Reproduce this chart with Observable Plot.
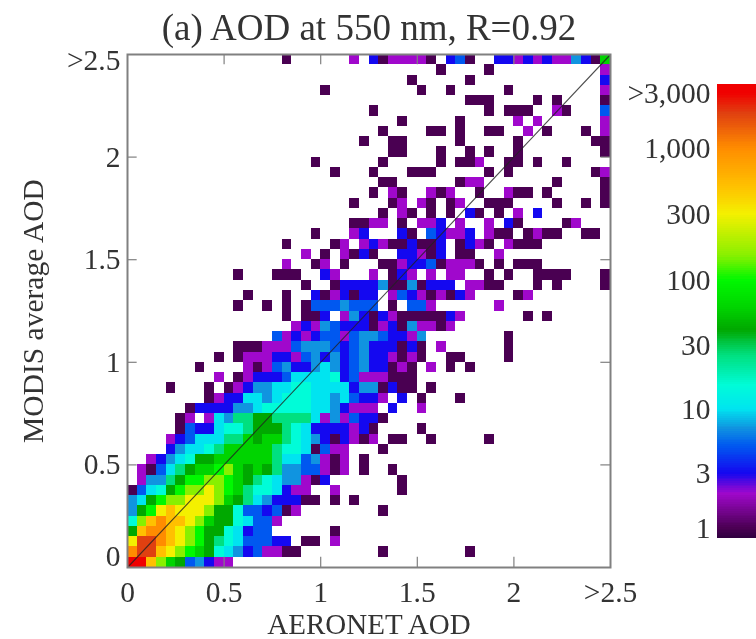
<!DOCTYPE html>
<html>
<head>
<meta charset="utf-8">
<script src="https://cdn.jsdelivr.net/npm/d3@7"></script>
<script src="https://cdn.jsdelivr.net/npm/@observablehq/plot@0.6"></script>
<style>
html,body{margin:0;padding:0;background:#fff;overflow:hidden}
#wrap{position:relative;width:756px;height:639px;filter:blur(0.5px)}
#wrap svg{position:absolute;top:0;background:transparent}
</style>
</head>
<body>
<div id="wrap"></div>
<script>
const titleText = "(a) AOD at 550 nm, R=0.92";
const xLabel = "AERONET AOD";
const yLabel = "MODIS average AOD";
const binSize = 0.05;
const binCount = 50;
const axisTicks = [0.5, 1, 1.5, 2];

// Count read for each level letter
const levelCounts = {a:1,b:2,c:3,d:5,e:7,f:10,g:15,h:25,i:40,j:60,k:100,l:150,m:300,n:500,o:1000,p:2000,q:3000};

// One line per MODIS bin, top row first. Each run: first AERONET bin, then level letters.
const rows = [
"16a 23b 25cabbbba 33cda 38ccbcbcbbecaj",
"32a 37a 49b",
"29a 35a 49c",
"20a 30a 33a 39a 49b",
"35aaa 42a 44a 49a",
"25a 37a 39aaa 44ba 49d",
"28a 34a 40b 42b 49b",
"26a 31aa 34a 37aa 41b 43a 47a 49b",
"24a 27aa 34a 40a 48aa",
"27aa 32a 35a 37a 40a 49a",
"19a 26a 32a 34aab 39aa 42a 45a",
"21a 25a 29aaa 37a 39a 48ab",
"26aa 34abb 44a 49a",
"25a 27ba 31bab 36a 39baa 43a 49a",
"23a 27ab 30ba 33ab 37aaa 44a 47a 49a",
"26a 28ba 31a 33a 35ca 38a 40b 42c",
"23aabb 28a 30bbc 34b 37b 39ca 45ab",
"19a 23bc 28ca 31dcbbc 37baa 41abaa 47aa",
"16a 21ab 24bcbaacaac 34acba 39baaa",
"18b 20a 22baca 28ccbac 34aa 38b",
"16b 19ab 22a 26aabccdabbba 38a 40aaa",
"11a 15aaa 20cb 25b 27acb 31b 33bb 37a 39a 42aaaa 49a",
"18a 21acccceaaeaccc 35bbaa 42a 44a 49a",
"12a 16a 19cabcacc 27bdcbabacb 40ab",
"11a 14a 16a 18adddeddd 27a 29ddb 38b",
"16a 18aac 22becacbaaaaacb 41a 43a",
"17bcbedcccabcaebbab",
"15dbcbcddbdeedccbe 39a",
"11aaabbbdeeedcdecccaca 32b 39a",
"9a 11abbbccbdececdeccbaba 33aa 39a",
"7a 12babdeccefecdeccaba 31b 33a 35a",
"9b 11abcccdffffgcdbbbaaa",
"4a 8a 10abceeffggffffceeacaa 31a",
"8abccffefgggffefdccb 28c 30a 34a",
"6acccceefgggggffecbbb 27c 30b",
"5ab.bfehhiihhhhfbebdcca",
"5adccfgghiiihgfccccbca 30a",
"4bcdfffhhjijjhgfecacbab 27aa 31a 37a",
"4ceffghjjjjjhggfadbb 26a",
"2bcefgiijjjjjjhffdebab 24a",
"1badfhijjkljijiheeddbab 24a 27a",
"1beehikkllkjihgfeebac 28a",
"0adfgikllmlkjhggfcbb 21b 28a",
"0efikllmmmljihfecccaa 21a 23a",
"0eikmnmmmliigddcdab 26a",
"0glnonnmljiigfddb",
"0inoonmlkiigfcdd 21a",
"0mpponmlkihgfdddcc 18aa 21b",
"0oppnmlkjigfecdbbaa 26a 35a",
"0qqnljidecbb"
];

// Colour bar
const colorStops = [0.8,1,2,3,5,7,10,15,25,40,60,100,150,300,500,1000,2000,3000,3700];
const colorValues = ["#300040","#4a0052","#a008cc","#1408f0","#0058f0","#1094e0","#00e4f0","#00fcd8","#00e080","#00a800","#00d400","#00f800","#88f000","#f4f000","#ffc000","#ff8c00","#e04010","#f00000","#f00000"];
const barTicks = [1,3,10,30,100,300,1000,3000];
const barLabels = ["1","3","10","30","100","300","1,000",">3,000"];

const cells = [];
rows.forEach((line, r) => {
  for (const [, start, run] of line.matchAll(/(\d+)([a-z.]+)/g)) {
    [...run].forEach((ch, i) => {
      if (ch === ".") return;
      const col = +start + i, row = binCount - 1 - r;
      cells.push({x1: col * binSize, x2: (col + 1) * binSize, y1: row * binSize, y2: (row + 1) * binSize, count: levelCounts[ch]});
    });
  }
});

const colorScale = {type: "log", domain: colorStops, range: colorValues};
const serif = "'Liberation Serif','Times New Roman',serif";
const ink = "#333";
const edge = "#808080";
const fs = 29.5;
const tickText = d => String(d);

const main = Plot.plot({
  width: 756, height: 639,
  marginLeft: 127, marginRight: 146, marginTop: 54, marginBottom: 72,
  style: {fontFamily: serif, background: "transparent", overflow: "visible"},
  x: {domain: [0, 2.5]},
  y: {domain: [0, 2.5]},
  color: colorScale,
  marks: [
    Plot.rect(cells, {x1: "x1", x2: "x2", y1: "y1", y2: "y2", fill: "count", shapeRendering: "crispEdges"}),
    Plot.line([[0, 0], [2.5, 2.5]], {stroke: "#222", strokeWidth: 1.1, strokeOpacity: 0.8}),
    Plot.ruleX(axisTicks, {y1: 0, y2: binSize, stroke: edge, strokeWidth: 1.2}),
    Plot.ruleX(axisTicks, {y1: 2.5 - binSize, y2: 2.5, stroke: edge, strokeWidth: 1.2}),
    Plot.ruleY(axisTicks, {x1: 0, x2: binSize, stroke: edge, strokeWidth: 1.2}),
    Plot.ruleY(axisTicks, {x1: 2.5 - binSize, x2: 2.5, stroke: edge, strokeWidth: 1.2}),
    Plot.frame({stroke: edge, strokeWidth: 2}),
    Plot.axisX([0, ...axisTicks], {tickSize: 0, tickPadding: 14, fontSize: fs, fill: ink, label: null, tickFormat: tickText}),
    Plot.axisX([2.5], {tickSize: 0, tickPadding: 14, fontSize: fs, fill: ink, label: null, tickFormat: () => ">2.5"}),
    Plot.axisY(axisTicks, {tickSize: 0, tickPadding: 7, fontSize: fs, fill: ink, label: null, tickFormat: tickText}),
    Plot.axisY([0], {tickSize: 0, tickPadding: 7, fontSize: fs, fill: ink, label: null, dy: -11, tickFormat: tickText}),
    Plot.axisY([2.5], {tickSize: 0, tickPadding: 7, fontSize: fs, fill: ink, label: null, dy: 6, tickFormat: () => ">2.5"}),
    Plot.text([titleText], {frameAnchor: "top", dy: -26, fontSize: 37, fill: ink, text: d => d, lineAnchor: "middle"}),
    Plot.text([xLabel], {frameAnchor: "bottom", dy: 57, fontSize: 29, fill: ink, text: d => d, lineAnchor: "middle"}),
    Plot.text([yLabel], {frameAnchor: "left", dx: -94, rotate: -90, textAnchor: "middle", fontSize: fs, fill: ink, text: d => d, lineAnchor: "middle"})
  ]
});
main.style.left = "0px";

const bandEdges = d3.range(0, 241).map(i => 0.8 * Math.pow(3700 / 0.8, i / 240));
const bands = bandEdges.slice(0, -1).map((v, i) => ({v, next: bandEdges[i + 1], color: Math.sqrt(v * bandEdges[i + 1])}));

const bar = Plot.plot({
  width: 136, height: 639,
  marginLeft: 97, marginRight: 0, marginTop: 0, marginBottom: 0,
  style: {fontFamily: serif, background: "transparent", overflow: "visible"},
  x: {domain: [0, 1], axis: null},
  y: {type: "log", domain: [0.8, ...barTicks, 3700], range: [538, 528, 473, 409, 345, 280, 214, 148, 93, 84], axis: null},
  color: colorScale,
  marks: [
    Plot.rect(bands, {x1: 0, x2: 1, y1: "v", y2: "next", fill: "color", shapeRendering: "crispEdges"}),
    Plot.axisY(barTicks, {tickSize: 0, tickPadding: 7, fontSize: fs, fill: ink, label: null, tickFormat: d => barLabels[barTicks.indexOf(d)]})
  ]
});
bar.style.left = "620px";

document.getElementById("wrap").append(main, bar);
</script>
</body>
</html>
